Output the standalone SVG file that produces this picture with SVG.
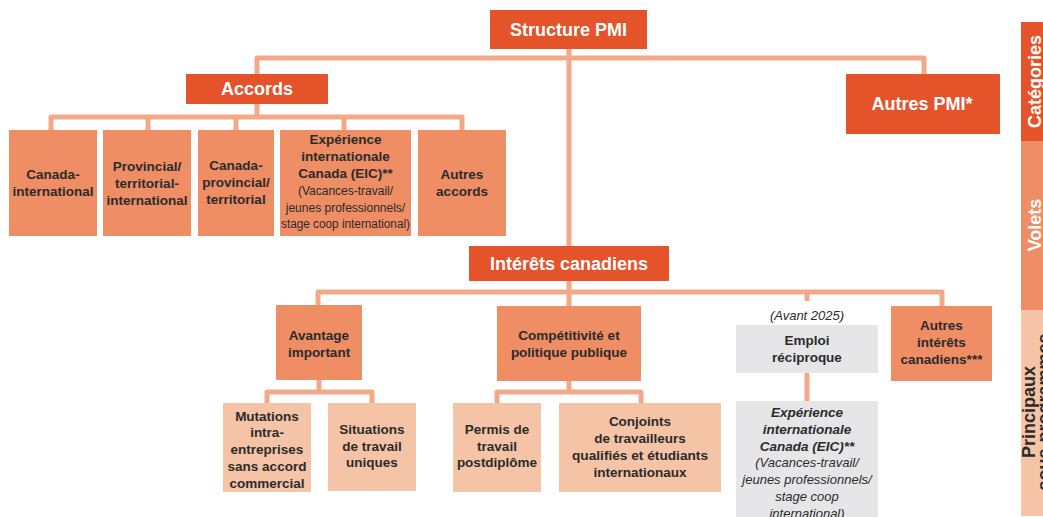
<svg xmlns="http://www.w3.org/2000/svg" width="1043" height="517" viewBox="0 0 1043 517">
  <style>
    .cat { fill: #E5532B; }
    .vol { fill: #EF8D65; }
    .sub { fill: #F5C3A5; }
    .old { fill: #E6E6E8; }
    .head { font-family: "Liberation Sans", Arial, sans-serif; font-weight: bold; font-size: 18px; fill: #FFFFFF; text-anchor: middle; }
    .lbl { font-family: "Liberation Sans", Arial, sans-serif; font-weight: bold; font-size: 13.5px; fill: #2B2B2B; text-anchor: middle; }
    .small { font-family: "Liberation Sans", Arial, sans-serif; font-size: 12px; fill: #2B2B2B; text-anchor: middle; }
    .it { font-family: "Liberation Sans", Arial, sans-serif; font-style: italic; font-size: 13px; fill: #2B2B2B; text-anchor: middle; }
    .itb { font-family: "Liberation Sans", Arial, sans-serif; font-style: italic; font-weight: bold; font-size: 13.5px; fill: #2B2B2B; text-anchor: middle; }
    .side { font-family: "Liberation Sans", Arial, sans-serif; font-weight: bold; font-size: 18px; text-anchor: middle; }
    .conn { fill: none; stroke: #F3A887; stroke-width: 5; stroke-linejoin: round; }
  </style>

  <!-- connectors -->
  <g id="connectors" class="conn">
    <path d="M257,74 V58 H924 V74"/>
    <path d="M569,49 V246"/>
    <path d="M257,104 V117"/>
    <path d="M51,130 V117 H462 V130"/>
    <path d="M148,117 V130 M236,117 V130 M344,117 V130"/>
    <path d="M318,305 V292 H942 V306"/>
    <path d="M569,281 V306"/>
    <path d="M807,292 V301"/>
    <path d="M319,380 V392"/>
    <path d="M267,403 V392 H372 V403"/>
    <path d="M569,381 V392"/>
    <path d="M497,403 V392 H641 V403"/>
    <path d="M807,373 V401"/>
  </g>

  <!-- root -->
  <g id="structure-pmi">
    <rect class="cat" x="490" y="10" width="157" height="39"/>
    <text class="head" x="568.5" y="36" font-size="18.5">Structure PMI</text>
  </g>

  <!-- categories -->
  <g id="accords">
    <rect class="cat" x="186" y="74" width="142" height="30"/>
    <text class="head" x="257" y="95">Accords</text>
  </g>
  <g id="autres-pmi">
    <rect class="cat" x="846" y="74" width="154" height="60"/>
    <text class="head" x="922" y="110" font-size="17.5">Autres PMI*</text>
  </g>
  <g id="interets-canadiens">
    <rect class="cat" x="469" y="246" width="200" height="35"/>
    <text class="head" x="569" y="270" font-size="18.5">Intérêts canadiens</text>
  </g>

  <!-- streams under Accords -->
  <g id="canada-international">
    <rect class="vol" x="9" y="130" width="88" height="106"/>
    <text class="lbl" x="53" y="179">Canada-</text>
    <text class="lbl" x="53" y="196">international</text>
  </g>
  <g id="pt-international">
    <rect class="vol" x="103" y="130" width="88" height="106"/>
    <text class="lbl" x="147" y="171">Provincial/</text>
    <text class="lbl" x="147" y="188">territorial-</text>
    <text class="lbl" x="147" y="205">international</text>
  </g>
  <g id="canada-pt">
    <rect class="vol" x="198" y="130" width="76" height="106"/>
    <text class="lbl" x="236" y="170">Canada-</text>
    <text class="lbl" x="236" y="187">provincial/</text>
    <text class="lbl" x="236" y="204">territorial</text>
  </g>
  <g id="eic-accords">
    <rect class="vol" x="280" y="130" width="131" height="106"/>
    <text class="lbl" x="345.5" y="144">Expérience</text>
    <text class="lbl" x="345.5" y="161">internationale</text>
    <text class="lbl" x="345.5" y="178">Canada (EIC)**</text>
    <text class="small" x="345.5" y="195">(Vacances-travail/</text>
    <text class="small" x="345.5" y="212">jeunes professionnels/</text>
    <text class="small" x="345.5" y="228" textLength="129" lengthAdjust="spacingAndGlyphs">stage coop international)</text>
  </g>
  <g id="autres-accords">
    <rect class="vol" x="418" y="130" width="88" height="106"/>
    <text class="lbl" x="462" y="179">Autres</text>
    <text class="lbl" x="462" y="196">accords</text>
  </g>

  <!-- streams under Intérêts canadiens -->
  <g id="avantage-important">
    <rect class="vol" x="276" y="305" width="86" height="75"/>
    <text class="lbl" x="319" y="340">Avantage</text>
    <text class="lbl" x="319" y="357">important</text>
  </g>
  <g id="competitivite">
    <rect class="vol" x="497" y="306" width="144" height="75"/>
    <text class="lbl" x="569" y="340">Compétitivité et</text>
    <text class="lbl" x="569" y="357">politique publique</text>
  </g>
  <g id="emploi-reciproque">
    <text class="it" x="807" y="320" font-size="12">(Avant 2025)</text>
    <rect class="old" x="736" y="325" width="142" height="48"/>
    <text class="lbl" x="807" y="345">Emploi</text>
    <text class="lbl" x="807" y="362">réciproque</text>
  </g>
  <g id="autres-interets">
    <rect class="vol" x="891" y="306" width="101" height="75"/>
    <text class="lbl" x="941.5" y="330">Autres</text>
    <text class="lbl" x="941.5" y="347">intérêts</text>
    <text class="lbl" x="941.5" y="364">canadiens***</text>
  </g>

  <!-- main sub-programmes -->
  <g id="mutations">
    <rect class="sub" x="223" y="403" width="88" height="89"/>
    <text class="lbl" x="267" y="421">Mutations</text>
    <text class="lbl" x="267" y="437">intra-</text>
    <text class="lbl" x="267" y="454">entreprises</text>
    <text class="lbl" x="267" y="471">sans accord</text>
    <text class="lbl" x="267" y="488">commercial</text>
  </g>
  <g id="situations-uniques">
    <rect class="sub" x="328" y="403" width="88" height="88"/>
    <text class="lbl" x="372" y="434">Situations</text>
    <text class="lbl" x="372" y="451">de travail</text>
    <text class="lbl" x="372" y="467">uniques</text>
  </g>
  <g id="permis-postdiplome">
    <rect class="sub" x="453" y="403" width="88" height="89"/>
    <text class="lbl" x="497" y="434">Permis de</text>
    <text class="lbl" x="497" y="451">travail</text>
    <text class="lbl" x="497" y="467">postdiplôme</text>
  </g>
  <g id="conjoints">
    <rect class="sub" x="559" y="403" width="162" height="89"/>
    <text class="lbl" x="640" y="426">Conjoints</text>
    <text class="lbl" x="640" y="443">de travailleurs</text>
    <text class="lbl" x="640" y="460" textLength="136" lengthAdjust="spacingAndGlyphs">qualifiés et étudiants</text>
    <text class="lbl" x="640" y="477">internationaux</text>
  </g>
  <g id="eic-interets">
    <rect class="old" x="736" y="401" width="142" height="120"/>
    <text class="itb" x="807" y="417">Expérience</text>
    <text class="itb" x="807" y="434">internationale</text>
    <text class="itb" x="807" y="451">Canada (EIC)**</text>
    <text class="it" x="807" y="467">(Vacances-travail/</text>
    <text class="it" x="807" y="484">jeunes professionnels/</text>
    <text class="it" x="807" y="501">stage coop</text>
    <text class="it" x="807" y="518">international)</text>
  </g>

  <!-- level legend on the right edge -->
  <g id="legend">
    <rect class="cat" x="1021" y="22" width="22" height="119"/>
    <rect class="vol" x="1021" y="141" width="22" height="169"/>
    <rect class="sub" x="1021" y="310" width="22" height="206"/>
    <text class="side" fill="#FFFFFF" transform="translate(1041,81.5) rotate(-90)">Catégories</text>
    <text class="side" fill="#FFFFFF" transform="translate(1041,225) rotate(-90)">Volets</text>
    <text class="side" fill="#2B2B2B" transform="translate(1035,412) rotate(-90)">Principaux<tspan x="0" dy="15">sous-programmes</tspan></text>
  </g>
</svg>
